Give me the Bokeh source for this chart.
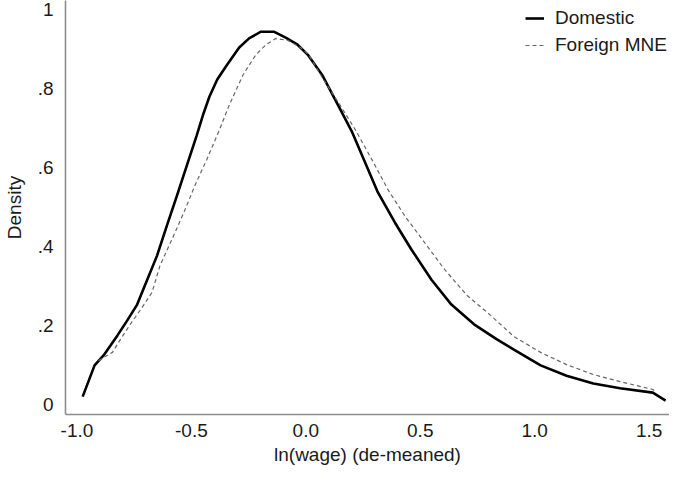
from bokeh.plotting import figure
from bokeh.models import Range1d, FixedTicker, Legend, LegendItem
from bokeh.embed import file_html
from bokeh.resources import INLINE

# ---- data ----
dom_x = [-0.975, -0.923, -0.880, -0.823, -0.780, -0.737, -0.693, -0.650, -0.607, -0.563,
         -0.520, -0.477, -0.447, -0.421, -0.387, -0.347, -0.291, -0.248, -0.196, -0.140,
         -0.088, -0.036, 0.008, 0.073, 0.142, 0.203, 0.259, 0.315, 0.389, 0.462,
         0.549, 0.636, 0.735, 0.835, 0.909, 1.026, 1.139, 1.256, 1.373, 1.516, 1.572]
dom_y = [0.020, 0.099, 0.127, 0.175, 0.213, 0.253, 0.316, 0.377, 0.453, 0.529,
         0.605, 0.681, 0.737, 0.780, 0.823, 0.858, 0.904, 0.927, 0.944, 0.944,
         0.929, 0.911, 0.886, 0.833, 0.757, 0.689, 0.613, 0.537, 0.461, 0.392,
         0.316, 0.253, 0.203, 0.165, 0.139, 0.099, 0.073, 0.053, 0.041, 0.030, 0.010]

for_x = [-0.906, -0.845, -0.810, -0.767, -0.715, -0.672, -0.637, -0.585, -0.533, -0.485,
         -0.433, -0.377, -0.334, -0.274, -0.218, -0.174, -0.131, -0.079, -0.023, 0.012,
         0.077, 0.142, 0.216, 0.289, 0.359, 0.432, 0.519, 0.606, 0.705, 0.809,
         0.909, 1.026, 1.139, 1.256, 1.373, 1.516, 1.529]
for_y = [0.111, 0.132, 0.165, 0.203, 0.246, 0.284, 0.352, 0.418, 0.486, 0.554,
         0.620, 0.696, 0.759, 0.835, 0.886, 0.911, 0.927, 0.922, 0.904, 0.886,
         0.823, 0.765, 0.696, 0.620, 0.544, 0.478, 0.410, 0.342, 0.276, 0.225,
         0.172, 0.132, 0.101, 0.076, 0.058, 0.038, 0.033]

x_ticks = [-1.0, -0.5, 0.0, 0.5, 1.0, 1.5]
y_ticks = [0, 0.2, 0.4, 0.6, 0.8, 1]
y_tick_labels = ["0", ".2", ".4", ".6", ".8", "1"]
x_tick_labels = ["-1.0", "-0.5", "0.0", "0.5", "1.0", "1.5"]
series_names = ["Domestic", "Foreign MNE"]

FONT = "Liberation Sans"
FS = "19px"

p = figure(width=669, height=473, output_backend="svg", toolbar_location=None,
           x_range=Range1d(-1.050, 1.589), y_range=Range1d(-0.0253, 1.023),
           min_border_left=60, min_border_right=0, min_border_top=0, min_border_bottom=59)
p.outline_line_color = None
p.xgrid.visible = False
p.ygrid.visible = False
p.background_fill_color = "white"

r1 = p.line(dom_x, dom_y, line_color="black", line_width=2.6)
r2 = p.line(for_x, for_y, line_color="#666666", line_width=1.2, line_dash="4 3")

for ax in (p.xaxis[0], p.yaxis[0]):
    ax.axis_line_color = "#8c8c8c"
    ax.axis_line_width = 1.6
    ax.major_tick_line_color = None
    ax.minor_tick_line_color = None
    ax.major_tick_out = 0
    ax.major_tick_in = 0
    ax.major_label_text_font = FONT
    ax.major_label_text_font_size = FS
    ax.major_label_text_color = "#1a1a1a"
    ax.axis_label_text_font = FONT
    ax.axis_label_text_font_size = FS
    ax.axis_label_text_font_style = "normal"
    ax.axis_label_text_color = "#1a1a1a"

p.xaxis[0].ticker = FixedTicker(ticks=x_ticks)
p.xaxis[0].major_label_overrides = {t: l for t, l in zip(x_ticks, x_tick_labels)}
p.xaxis[0].major_label_standoff = 9
p.xaxis[0].axis_label = "ln(wage) (de-meaned)"
p.xaxis[0].axis_label_standoff = 4

p.yaxis[0].ticker = FixedTicker(ticks=y_ticks)
p.yaxis[0].major_label_overrides = {t: l for t, l in zip(y_ticks, y_tick_labels)}
p.yaxis[0].major_label_standoff = 12
p.yaxis[0].axis_label = "Density"
p.yaxis[0].axis_label_standoff = 10

legend = Legend(items=[LegendItem(label=series_names[0], renderers=[r1]),
                       LegendItem(label=series_names[1], renderers=[r2])],
                location=(460, 358))
legend.border_line_color = None
legend.background_fill_alpha = 0
legend.padding = 0
legend.margin = 0
legend.spacing = 5
legend.glyph_width = 19
legend.glyph_height = 22
legend.label_height = 22
legend.label_standoff = 11
legend.label_text_font = FONT
legend.label_text_font_size = FS
legend.label_text_color = "#1a1a1a"
p.add_layout(legend)

open("out.html", "w").write(file_html(p, INLINE))
